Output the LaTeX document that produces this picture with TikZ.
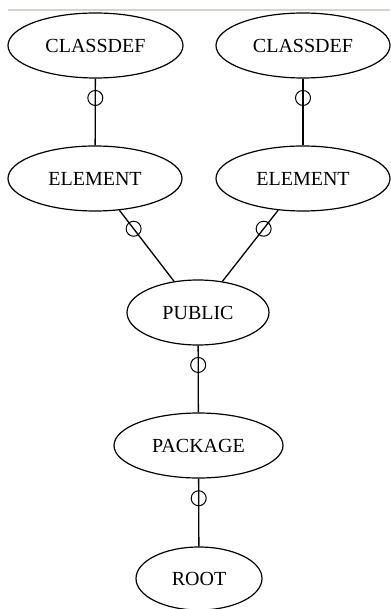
\documentclass[tikz,border=0pt]{standalone}
\usepackage{fontspec}
\setmainfont{Liberation Serif}
\usetikzlibrary{shapes.geometric}
\begin{document}
\begin{tikzpicture}[x=1pt,y=1pt,
  ent/.style={ellipse,draw,line width=1.2pt,inner sep=0pt,
    font=\fontsize{20}{23}\selectfont},
  link/.style={line width=1.3pt},
  optmark/.style={circle,draw,line width=1pt,minimum size=15pt,inner sep=0pt}]
\useasboundingbox (0,0) rectangle (390,-609);
% light separator along the top
\draw[line width=1.5pt,color={rgb,255:red,214;green,210;blue,202}] (8,-10) -- (390,-10);

% entities
\node[ent,minimum width=175pt,minimum height=65pt] (cdA) at (95.5,-45.5) {CLASSDEF};
\node[ent,minimum width=174pt,minimum height=65pt] (cdB) at (303,-45.5) {CLASSDEF};
\node[ent,minimum width=174pt,minimum height=65pt] (elA) at (95,-178.5) {ELEMENT};
\node[ent,minimum width=174pt,minimum height=65pt] (elB) at (303,-178.5) {ELEMENT};
\node[ent,minimum width=142pt,minimum height=65pt] (pub) at (198,-312.5) {PUBLIC};
\node[ent,minimum width=169pt,minimum height=65pt] (pkg) at (198.5,-445.5) {PACKAGE};
\node[ent,minimum width=126pt,minimum height=63pt] (root) at (199,-578.5) {ROOT};

% relationships, optional end marked by a circle
\draw[link] (cdA) -- node[optmark,pos=0.29]{} (elA);
\draw[link] (cdB) -- node[optmark,pos=0.29]{} (elB);
\draw[link] (elA) -- node[optmark,pos=0.26]{} (pub);
\draw[link] (elB) -- node[optmark,pos=0.26]{} (pub);
\draw[link] (pub) -- node[optmark,pos=0.29]{} (pkg);
\draw[link] (pkg) -- node[optmark,pos=0.29]{} (root);
\end{tikzpicture}
\end{document}
